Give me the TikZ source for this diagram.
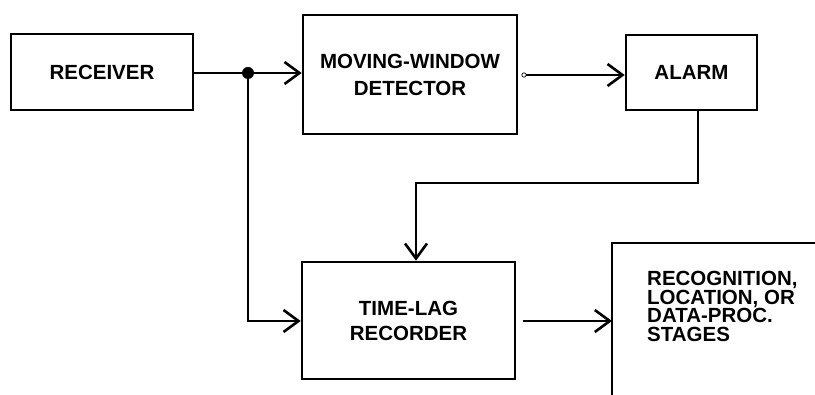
\documentclass[tikz,border=0pt]{standalone}
\usepackage{fontspec}
\setmainfont{Liberation Sans}
\usetikzlibrary{arrows.meta,calc}
\begin{document}
\begin{tikzpicture}[x=1pt,y=-1pt,
  box/.style={draw,line width=2.6pt,rectangle,inner sep=0pt,align=center,
    font=\fontsize{20.5}{27}\selectfont\bfseries},
  conn/.style={line width=2.6pt,-{Straight Barb[length=15pt,width=22pt,line width=2.6pt]}},
  wire/.style={line width=2.6pt}]
\useasboundingbox (0,0) rectangle (815,395);
\node[box,minimum width=182pt,minimum height=76pt] (rx) at (102,72) {RECEIVER};
\node[box,minimum width=214pt,minimum height=119pt] (mw) at (410,74.5) {MOVING-WINDOW\\DETECTOR};
\node[box,minimum width=131pt,minimum height=75pt] (al) at (691.5,72.5) {ALARM};
\node[box,minimum width=213pt,minimum height=117pt,font=\fontsize{20.5}{25}\selectfont\bfseries] (tl) at (408.5,320.5) {TIME-LAG\\RECORDER};
\node[inner sep=0pt,minimum width=203pt,minimum height=152pt,anchor=north west] (rc) at (612,243) {};
\node[anchor=north west,align=left,inner sep=0pt,font=\fontsize{20.5}{18.7}\selectfont\bfseries] (rctext) at (647,271) {RECOGNITION,\\LOCATION, OR\\DATA-PROC.\\STAGES};
\draw[wire] (rc.north east) -- (rc.north west) -- (rc.south west);
% junction
\coordinate (j) at (248,73);
\coordinate (jd) at (248,321);
\draw[wire] (rx.east |- j) -- (j);
\draw[conn] (j) -- (mw.west |- j);
\fill (j) circle (6pt);
\draw[conn] (j) -- (jd) -- (tl.west |- jd);
% MW -> alarm
\coordinate (mo) at (524,75);
\draw[conn] (mo) -- (al.west |- mo);
\draw[line width=0.7pt,fill=white] (mo) circle (2.2pt);
% alarm -> time-lag
\coordinate (a1) at (698,183);
\coordinate (a2) at (416,183);
\draw[conn] (al.south -| a1) -- (a1) -- (a2) -- (a2 |- tl.north);
% time-lag -> recognition
\coordinate (t1) at (523,321);
\draw[conn] (t1) -- (rc.west |- t1);
\end{tikzpicture}
\end{document}
